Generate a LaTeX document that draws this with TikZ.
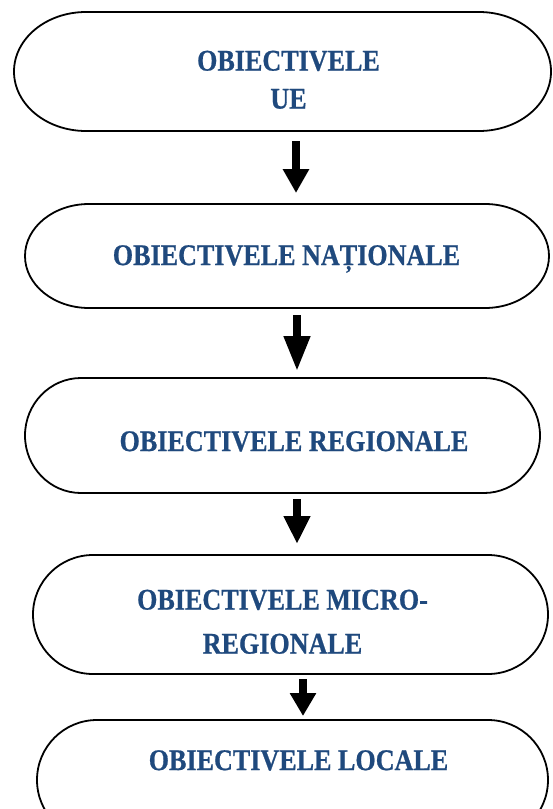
\documentclass[tikz,border=0pt]{standalone}
\usepackage{fontspec}
\setmainfont{Liberation Serif}
\newfontfamily\lblfont{Liberation Serif}[FakeStretch=0.87, BoldFeatures={FakeBold=0.7}]
\usetikzlibrary{arrows.meta}
\definecolor{txtblue}{HTML}{1F497D}
\newcommand\stadbox[3]{%
  \draw[boxline] ([xshift=#2]#1.north west) -- ([xshift=-#2]#1.north east)
    arc[start angle=90,end angle=-90,x radius=#2,y radius=#3]
    -- ([xshift=#2]#1.south west)
    arc[start angle=270,end angle=90,x radius=#2,y radius=#3] -- cycle;}
\begin{document}
\begin{tikzpicture}[x=1pt,y=-1pt,
  box/.style={draw=none, inner sep=0pt, outer sep=0pt},
  boxline/.style={draw=black, line width=1.8pt},
  lbl/.style={text=txtblue, font=\lblfont\fontsize{30}{38}\selectfont\bfseries, align=center, anchor=north, inner sep=0pt},
  arr/.style={line width=7.5pt, -{Triangle[width=25pt,length=#1]}}]
\useasboundingbox (0,0) rectangle (552,809);
\clip (0,0) rectangle (552,809);
% boxes
\node[box, minimum width=537pt, minimum height=119pt] (b1) at (282.5,71.5) {};
\node[box, minimum width=524pt, minimum height=104pt] (b2) at (287,256) {};
\node[box, minimum width=515pt, minimum height=115pt] (b3) at (282.5,435.5) {};
\node[box, minimum width=515pt, minimum height=119pt] (b4) at (290.5,614.5) {};
\node[box, minimum width=511pt, minimum height=120pt] (b5) at (292.5,780) {};
\stadbox{b1}{72pt}{59.5pt}
\stadbox{b2}{64pt}{52pt}
\stadbox{b3}{56pt}{57.5pt}
\stadbox{b4}{60pt}{59.5pt}
\stadbox{b5}{60pt}{60pt}
% labels
\node[lbl] (t1) at (288.5,50.5) {OBIECTIVELE\\UE};
\node[lbl] (t2) at (286.5,245) {OBIECTIVELE NAȚIONALE};
\node[lbl] (t3) at (294,431) {OBIECTIVELE REGIONALE};
\node[lbl, font=\lblfont\fontsize{30}{44}\selectfont\bfseries] (t4) at (282.5,589.5) {OBIECTIVELE MICRO-\\REGIONALE};
\node[lbl] (t5) at (298.5,750) {OBIECTIVELE LOCALE};
% arrows
\coordinate (x1) at (296,0);
\coordinate (x2) at (297,0);
\coordinate (x3) at (297,0);
\coordinate (x4) at (303,0);
\draw[arr=24pt, shorten <=10pt, shorten >=11pt] (b1.south -| x1) -- (b2.north -| x1);
\draw[arr=35pt, shorten <=7pt, shorten >=7pt] (b2.south -| x2) -- (b3.north -| x2);
\draw[arr=28pt, shorten <=6pt, shorten >=11pt] (b3.south -| x3) -- (b4.north -| x3);
\draw[arr=23pt, shorten <=5pt, shorten >=4pt] (b4.south -| x4) -- (b5.north -| x4);
\end{tikzpicture}
\end{document}
